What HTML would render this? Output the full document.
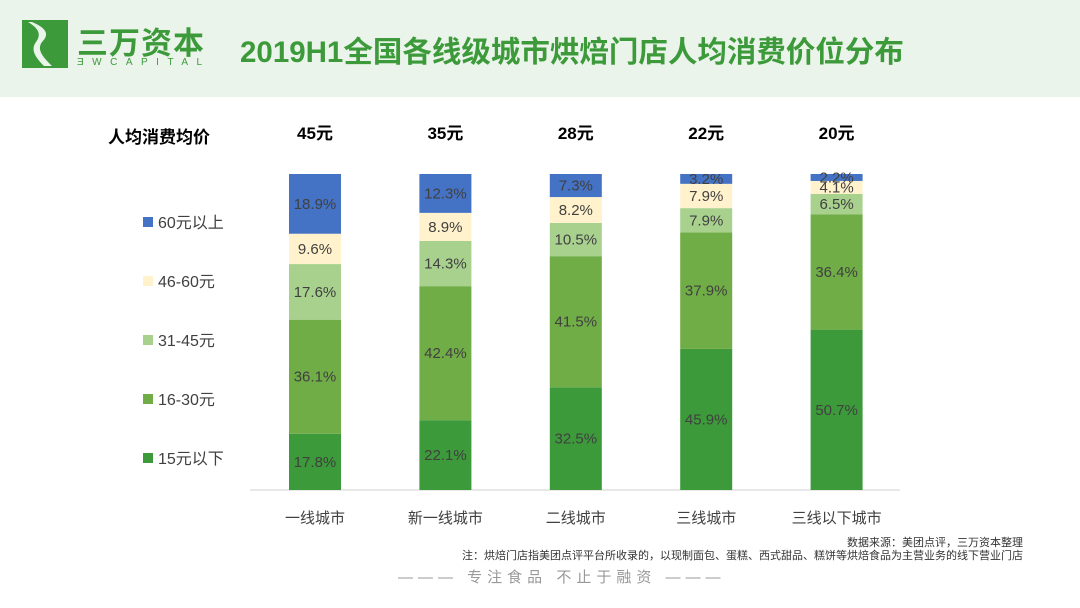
<!DOCTYPE html>
<html><head><meta charset="utf-8"><style>
body{margin:0;width:1080px;height:608px;overflow:hidden;background:#fff;font-family:"Liberation Sans","Noto Sans CJK SC",sans-serif;position:relative}
.hdr{position:absolute;left:0;top:0;width:1080px;height:97px;background:#eaf4ea}
.t{position:absolute;white-space:nowrap}
</style></head><body>
<div class="hdr"></div>
<svg class="t" style="left:22px;top:20px" width="46" height="48">
<rect x="0" y="0" width="46" height="48" fill="#3d9a3a"/>
<path d="M10,2 C24,8 28,14 20,22 C14,30 22,38 30,46 L22,46 C14,38 8,30 14,22 C20,14 16,8 6,2Z" fill="#eaf4ea"/>
</svg>
<div class="t" style="left:77px;top:18px;font-size:31px;font-weight:bold;color:#3d9a3a;letter-spacing:1px">三万资本</div>
<div class="t" style="left:77px;top:57px;font-size:10px;color:#3d9a3a;letter-spacing:8.5px">ƎWCAPITAL</div>
<div class="t" style="left:240px;top:29px;font-size:29.5px;font-weight:bold;color:#3d9a3a">2019H1全国各线级城市烘焙门店人均消费价位分布</div>
<div class="t" style="left:108px;top:123px;font-size:17px;font-weight:bold;color:#000">人均消费均价</div>
<svg id="c" class="t" style="left:0;top:0" width="1080" height="608"></svg>
<div class="t" style="right:57px;top:534px;font-size:11px;color:#333">数据来源：美团点评，三万资本整理</div>
<div class="t" style="right:57px;top:547px;font-size:11px;color:#333">注：烘焙门店指美团点评平台所收录的，以现制面包、蛋糕、西式甜品、糕饼等烘焙食品为主营业务的线下营业门店</div>
<div class="t" style="left:398px;top:566px;font-size:15px;color:#999;letter-spacing:5px">——— 专注食品 不止于融资 ———</div>
<script>
const categories=["一线城市","新一线城市","二线城市","三线城市","三线以下城市"];
const avgPrices=["45元","35元","28元","22元","20元"];
const seriesNames=["15元以下","16-30元","31-45元","46-60元","60元以上"];
const s15=[17.8,22.1,32.5,45.9,50.7];
const s16=[36.1,42.4,41.5,37.9,36.4];
const s31=[17.6,14.3,10.5,7.9,6.5];
const s46=[9.6,8.9,8.2,7.9,4.1];
const s60=[18.9,12.3,7.3,3.2,2.2];
const series=[s15,s16,s31,s46,s60];
const colors=["#3d9a3a","#70ad47","#a9d18e","#fff2cc","#4472c4"];
const svg=document.getElementById('c');const NS="http://www.w3.org/2000/svg";
const y0=490,H=316,x0=250,step=130.4,bw=52;
const xc=i=>x0+65+i*step;
const yv=p=>y0-p/100*H;
function mk(t,a){const e=document.createElementNS(NS,t);for(const k in a)e.setAttribute(k,a[k]);svg.appendChild(e);return e;}
const ax=mk('line',{x1:250,x2:900,y1:y0,y2:y0,stroke:'#d0d0d0'});


categories.forEach((c,i)=>{
 const tot=series.reduce((a,s)=>a+s[i],0);let acc=0;
 series.forEach((s,j)=>{
  const p=s[i]/tot*100;
  const r=mk('rect',{x:xc(i)-bw/2,y:yv(acc+p),width:bw,height:p/100*H,fill:colors[j]});
  
  
  const t=mk('text',{x:xc(i),y:yv(acc+p/2)+5,'text-anchor':'middle','font-size':15,fill:'#404040'});
  t.textContent=s[i].toFixed(1)+'%';
  
  
  acc+=p;
 });
 const l=mk('text',{x:xc(i),y:523,'text-anchor':'middle','font-size':15,fill:'#404040'});l.textContent=c;
 
 
 const a=mk('text',{x:xc(i),y:139,'text-anchor':'middle','font-size':17,'font-weight':'bold',fill:'#000'});a.textContent=avgPrices[i];
 
 
});
seriesNames.forEach((n,j)=>{
 const y=458-j*59;
 const r=mk('rect',{x:143,y:y-5,width:10,height:10,fill:colors[j]});
 
 
 const t=mk('text',{x:158,y:y+6,'font-size':16,fill:'#404040'});t.textContent=n;
 
 
});
</script>
</body></html>
